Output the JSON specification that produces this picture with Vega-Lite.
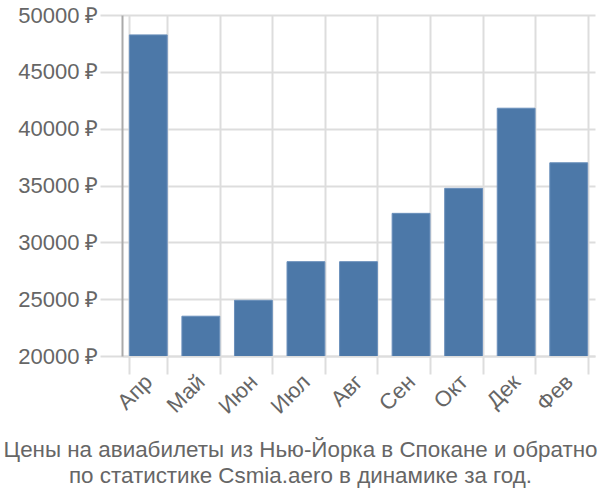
{
  "$schema": "https://vega.github.io/schema/vega-lite/v6.json",
  "width": 473,
  "height": 341,
  "autosize": {"type": "none"},
  "padding": {"left": 122, "top": 15, "right": 5, "bottom": 144},
  "background": "white",
  "data": {"values": [
    {"m": "Апр", "v": 48250},
    {"m": "Май", "v": 23500},
    {"m": "Июн", "v": 24900},
    {"m": "Июл", "v": 28300},
    {"m": "Авг", "v": 28300},
    {"m": "Сен", "v": 32550},
    {"m": "Окт", "v": 34750},
    {"m": "Дек", "v": 41800},
    {"m": "Фев", "v": 37000}
  ]},
  "title": {
    "text": ["Цены на авиабилеты из Нью-Йорка в Спокане и обратно", "по статистике Csmia.aero в динамике за год."],
    "orient": "bottom",
    "anchor": "middle",
    "font": "Liberation Sans",
    "fontSize": 22.4,
    "fontWeight": "normal",
    "color": "#666666",
    "offset": 22,
    "dx": -58,
    "lineHeight": 26
  },
  "mark": {"type": "bar", "color": "#4c78a8", "stroke": "#6a8fbb", "strokeWidth": 1, "clip": true},
  "encoding": {
    "x": {
      "field": "m", "type": "nominal", "sort": null,
      "scale": {"paddingInner": 0.28, "paddingOuter": 0.14},
      "axis": {
        "title": null, "labelAngle": -45, "labelAlign": "right", "labelBaseline": "middle",
        "labelFont": "Liberation Sans", "labelFontSize": 22, "labelColor": "#666666",
        "bandPosition": 0, "grid": true, "gridColor": "#dddddd", "gridWidth": 2,
        "ticks": true, "tickColor": "#dddddd", "tickWidth": 2, "tickSize": 18, "tickBand": "extent",
        "domain": true, "domainColor": "#dddddd", "domainWidth": 2,
        "labelPadding": 4
      }
    },
    "y": {
      "field": "v", "type": "quantitative",
      "scale": {"domain": [20000, 50000], "nice": false, "zero": false},
      "axis": {
        "title": null, "values": [20000, 25000, 30000, 35000, 40000, 45000, 50000],
        "labelExpr": "format(datum.value, 'd') + ' ₽'",
        "labelFont": "Liberation Sans", "labelFontSize": 22, "labelColor": "#666666",
        "grid": true, "gridColor": "#dddddd", "gridWidth": 2,
        "ticks": true, "tickColor": "#dddddd", "tickWidth": 2, "tickSize": 22,
        "domain": true, "domainColor": "#aaaaaa", "domainWidth": 2,
        "labelPadding": 2
      }
    }
  },
  "config": {"view": {"stroke": null}}
}
